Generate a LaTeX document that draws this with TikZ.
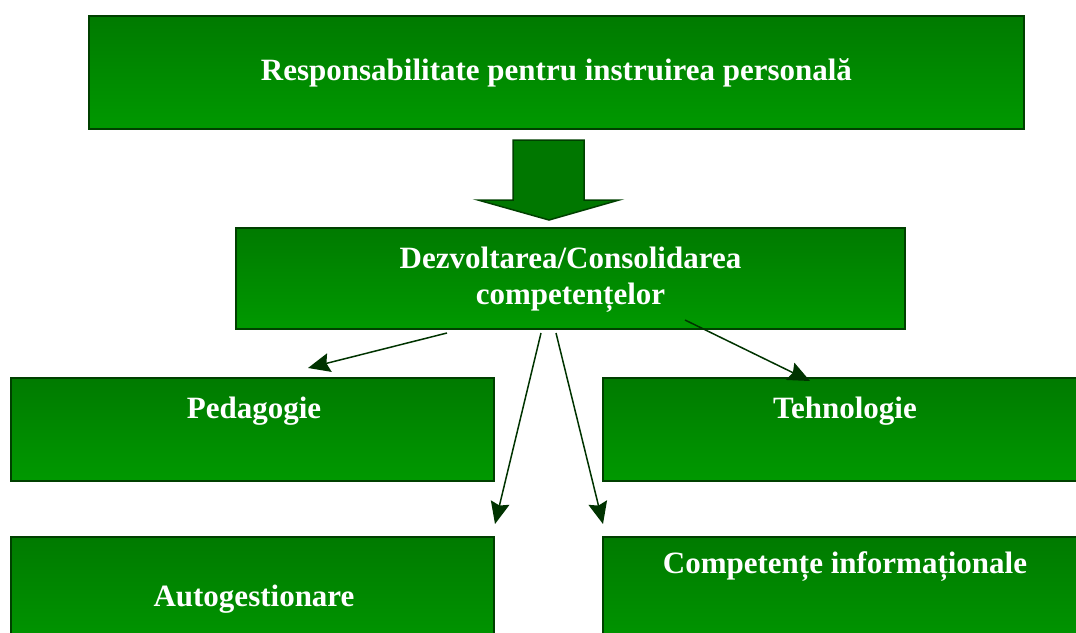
\documentclass[tikz,border=0pt]{standalone}
\usepackage{fontspec}
\setmainfont{Liberation Serif}
\usetikzlibrary{positioning,arrows.meta,calc}
\definecolor{boxtop}{RGB}{0,122,0}
\definecolor{boxbot}{RGB}{0,153,0}
\definecolor{boxline}{RGB}{0,64,0}
\definecolor{arrowgreen}{RGB}{0,119,0}
\definecolor{linkgreen}{RGB}{0,51,0}
\begin{document}
\begin{tikzpicture}[x=1pt, y=-1pt,
                      greenbox/.style={rectangle, draw=boxline, line width=1.5pt, top color=boxtop, bottom color=boxbot, inner sep=0pt},
                      boxtext/.style={text=white, font=\fontsize{31}{36}\selectfont\bfseries, align=center},
                      link/.style={draw=linkgreen, line width=1.5pt, -{Stealth[length=22pt, width=19pt, inset=3pt]}}]
        \useasboundingbox (0,0) rectangle (1076,632);
        \clip (0,0) rectangle (1076,632);
        % boxes
        \node (resp)[greenbox, minimum width=935pt, minimum height=113pt] at (556.5,72.5) {};
        \node (dezv)[greenbox, minimum width=669pt, minimum height=101pt] at (570.5,278.5) {};
        \node (ped)[greenbox, minimum width=483pt, minimum height=103pt] at (252.5,429.5) {};
        \node (teh)[greenbox, minimum width=483pt, minimum height=103pt] at (844.5,429.5) {};
        \node (auto)[greenbox, minimum width=483pt, minimum height=120pt] at (252.5,597) {};
        \node (comp)[greenbox, minimum width=483pt, minimum height=120pt] at (844.5,597) {};
        % texts
        \node (resp-t)[boxtext] at (556.5,73) {Responsabilitate pentru instruirea personală};
        \node (dezv-t)[boxtext] at (570.5,280) {Dezvoltarea/Consolidarea\\competențelor};
        \node (ped-t)[boxtext] at (254,411) {Pedagogie};
        \node (teh-t)[boxtext] at (845,411) {Tehnologie};
        \node (auto-t)[boxtext] at (254,599) {Autogestionare};
        \node (comp-t)[boxtext] at (845,567) {Competențe informaționale};
        % block arrow
        \draw[fill=arrowgreen, draw=boxline, line width=1.5pt, line join=miter]
          (513,140) -- (584,140) -- (584,200) -- (619,200) -- (549,220)
          -- (478,200) -- (513,200) -- cycle;
        % connectors
        \coordinate (d1) at (447,333);
        \coordinate (d2) at (541,333);
        \coordinate (d3) at (556,333);
        \coordinate (d4) at (685,320);
        \coordinate (p1) at (308,368);
        \coordinate (a1) at (495,524);
        \coordinate (c1) at (603,524);
        \coordinate (t1) at (810,381);
        \draw[link] (d1) -- (p1);
        \draw[link] (d2) -- (a1);
        \draw[link] (d3) -- (c1);
        \draw[link] (d4) -- (t1);
      \end{tikzpicture}
\end{document}
